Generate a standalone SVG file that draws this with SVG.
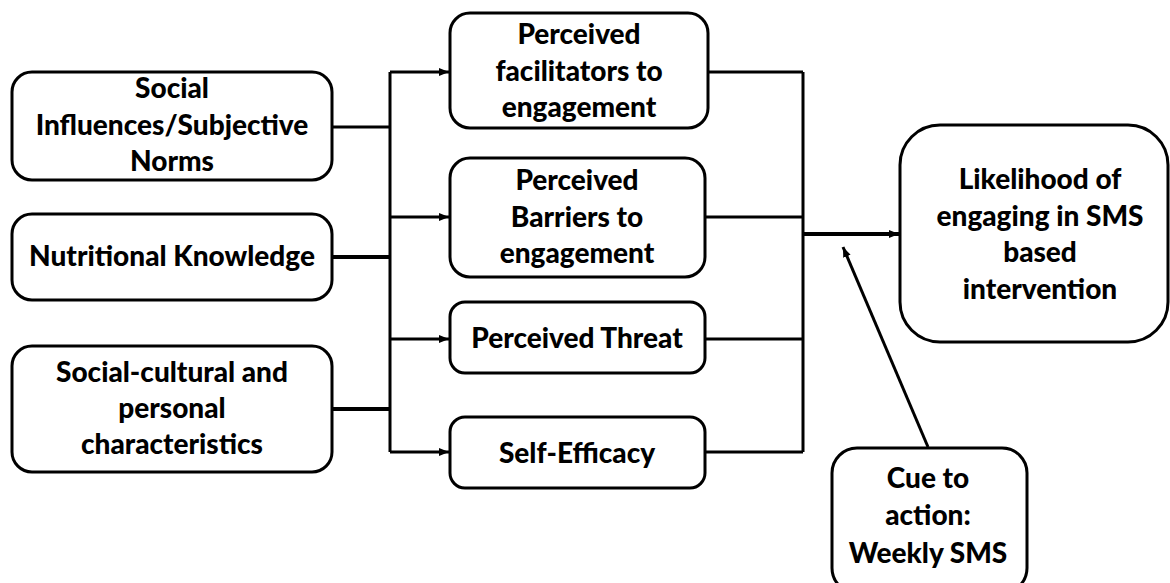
<svg xmlns="http://www.w3.org/2000/svg" width="1170" height="583" viewBox="0 0 1170 583">
<style>
.box{fill:#fff;stroke:#000;stroke-width:3}
.t{font-family:Lato,"Liberation Sans",sans-serif;font-weight:900;font-size:28px;text-anchor:middle;fill:#000}
.c{fill:none;stroke:#000;stroke-width:3}
.ck{fill:none;stroke:#000;stroke-width:4}
</style>
<defs>
<marker id="ah" viewBox="0 0 10 10" refX="10" refY="5" markerWidth="10" markerHeight="10" markerUnits="userSpaceOnUse" orient="auto">
<path d="M0,1 L10,5 L0,9 Z" fill="#000"/>
</marker>
</defs>
<rect width="1170" height="583" fill="#fff"/>
<g id="connectors">
<path class="c" d="M332,127 H390"/>
<path class="ck" d="M332,257 H390"/>
<path class="ck" d="M332,409 H390"/>
<path class="c" d="M390,72 V452"/>
<path class="c" d="M390,72 H449" marker-end="url(#ah)"/>
<path class="c" d="M390,217 H449" marker-end="url(#ah)"/>
<path class="c" d="M390,339 H449" marker-end="url(#ah)"/>
<path class="c" d="M390,452 H449" marker-end="url(#ah)"/>
<path class="c" d="M708,72 H803"/>
<path class="c" d="M705,217 H803"/>
<path class="c" d="M705,339 H803"/>
<path class="c" d="M705,452 H803"/>
<path class="c" d="M803,72 V452"/>
<path class="ck" d="M803,234 H899" marker-end="url(#ah)"/>
<path class="c" d="M928,447 L843,247" marker-end="url(#ah)"/>
</g>
<g id="social-influences">
<rect class="box" x="12" y="72" width="320" height="108" rx="20"/>
<text class="t" x="172" y="98">Social</text>
<text class="t" x="172" y="135">Influences/Subjective</text>
<text class="t" x="172" y="171">Norms</text>
</g>
<g id="nutritional-knowledge">
<rect class="box" x="12" y="214" width="320" height="86" rx="20"/>
<text class="t" x="172" y="266">Nutritional Knowledge</text>
</g>
<g id="social-cultural">
<rect class="box" x="12" y="346" width="320" height="126" rx="20"/>
<text class="t" x="172" y="382">Social-cultural and</text>
<text class="t" x="172" y="418">personal</text>
<text class="t" x="172" y="454">characteristics</text>
</g>
<g id="facilitators">
<rect class="box" x="450" y="13" width="258" height="115" rx="20"/>
<text class="t" x="579" y="44">Perceived</text>
<text class="t" x="579" y="81">facilitators to</text>
<text class="t" x="579" y="117">engagement</text>
</g>
<g id="barriers">
<rect class="box" x="450" y="158" width="255" height="119" rx="20"/>
<text class="t" x="577" y="190">Perceived</text>
<text class="t" x="577" y="227">Barriers to</text>
<text class="t" x="577" y="263">engagement</text>
</g>
<g id="threat">
<rect class="box" x="450" y="302" width="255" height="71" rx="15"/>
<text class="t" x="577" y="348">Perceived Threat</text>
</g>
<g id="self-efficacy">
<rect class="box" x="450" y="417" width="255" height="71" rx="15"/>
<text class="t" x="577" y="463">Self-Efficacy</text>
</g>
<g id="likelihood">
<rect class="box" x="900" y="125" width="268" height="217" rx="40"/>
<text class="t" x="1040" y="189">Likelihood of</text>
<text class="t" x="1040" y="226">engaging in SMS</text>
<text class="t" x="1040" y="262">based</text>
<text class="t" x="1040" y="299">intervention</text>
</g>
<g id="cue">
<rect class="box" x="832" y="448" width="195" height="145" rx="25"/>
<text class="t" x="928" y="488">Cue to</text>
<text class="t" x="928" y="525">action:</text>
<text class="t" x="928" y="563">Weekly SMS</text>
</g>
</svg>
